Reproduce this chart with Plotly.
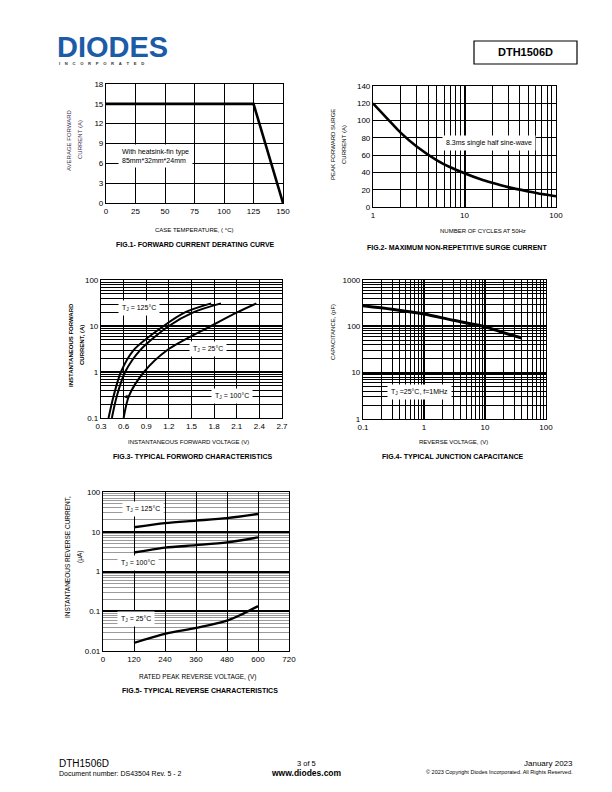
import plotly.graph_objects as go

W, H = 612, 792
def px(x): return x / W
def py(y): return 1 - y / H

# ---------------- data ----------------
fig1_case_temp = [0, 125, 150]
fig1_avg_current = [15, 15, 0]

fig2_cycles = [1, 1.5, 2, 3, 5, 7, 10, 15, 20, 30, 50, 70, 100]
fig2_surge_current = [120, 100, 86, 70, 54, 46, 39, 32, 28, 23, 18, 15, 12.5]

fig3_current = [0.1, 0.3, 1, 3, 10, 20, 31]
fig3_v_125c = [0.40, 0.467, 0.564, 0.733, 1.13, 1.42, 1.76]
fig3_v_100c = [0.444, 0.51, 0.62, 0.82, 1.2, 1.53, 1.89]
fig3_v_25c = [0.60, 0.67, 0.87, 1.18, 1.76, 2.11, 2.36]

fig4_reverse_v = [0.1, 0.3, 1, 3, 10, 20, 40]
fig4_capacitance = [280, 235, 185, 135, 98, 73, 56]

fig5_voltage = [120, 240, 360, 480, 600]
fig5_ir_125c = [13, 16.5, 19, 22, 28]
fig5_ir_100c = [3.0, 4.0, 4.6, 5.4, 7.2]
fig5_voltage_25c = [120, 240, 360, 480, 540, 600]
fig5_ir_25c = [0.016, 0.027, 0.038, 0.058, 0.085, 0.135]

FONT = "Liberation Sans, Arial, sans-serif"
BLACK = "#000000"

fig = go.Figure()

def line(x, y, xa, ya, w=2.6, shape="linear"):
    fig.add_trace(go.Scatter(x=x, y=y, mode="lines", xaxis=xa, yaxis=ya,
                             line=dict(color=BLACK, width=w, shape=shape, smoothing=0.8),
                             showlegend=False, hoverinfo="skip"))

line(fig1_case_temp, fig1_avg_current, "x", "y")
line(fig2_cycles, fig2_surge_current, "x2", "y2", shape="spline")
line(fig3_v_125c, fig3_current, "x3", "y3", w=2.0, shape="spline")
line(fig3_v_100c, fig3_current, "x3", "y3", w=2.0, shape="spline")
line(fig3_v_25c, fig3_current, "x3", "y3", w=2.0, shape="spline")
line(fig4_reverse_v, fig4_capacitance, "x4", "y4", w=3.0, shape="spline")
line(fig5_voltage, fig5_ir_125c, "x5", "y5", w=2.4, shape="spline")
line(fig5_voltage, fig5_ir_100c, "x5", "y5", w=2.4, shape="spline")
line(fig5_voltage_25c, fig5_ir_25c, "x5", "y5", w=2.4, shape="spline")

tickfont = dict(family=FONT, size=8, color=BLACK)

def lin_axis(dom, rng, dtick, tick0=0, fmt=None, gw=1.0, anchor=None, gc=BLACK):
    d = dict(domain=dom, range=rng, dtick=dtick, tick0=tick0, showgrid=True,
             gridcolor=gc, gridwidth=gw, showline=True, linecolor=BLACK, linewidth=1.2,
             mirror=True, ticks="", tickfont=tickfont, zeroline=False, fixedrange=True,
             anchor=anchor, automargin=False)
    if fmt:
        d["tickformat"] = fmt
    return d

def log_axis(dom, rng, anchor=None, minor_color=BLACK, minor_w=0.8, major_w=1.5):
    return dict(domain=dom, range=rng, type="log", dtick=1, showgrid=True,
                gridcolor=BLACK, gridwidth=major_w, showline=True, linecolor=BLACK,
                linewidth=1.2, mirror=True, ticks="", tickfont=tickfont, zeroline=False,
                fixedrange=True, anchor=anchor, automargin=False,
                minor=dict(dtick="D1", showgrid=True, gridcolor=minor_color,
                           gridwidth=minor_w, ticks=""))

# Fig 1
xd1 = [px(106), px(283)]; yd1 = [py(203), py(84)]
# Fig 2
xd2 = [px(373), px(556)]; yd2 = [py(207), py(86)]
# Fig 3
xd3 = [px(101), px(282)]; yd3 = [py(418), py(280)]
# Fig 4
xd4 = [px(363), px(546)]; yd4 = [py(419), py(280)]
# Fig 5
xd5 = [px(103), px(289)]; yd5 = [py(651), py(492)]

layout = dict(
    template="none",
    width=W, height=H, margin=dict(l=0, r=0, t=0, b=0, pad=0, autoexpand=False),
    paper_bgcolor="white", plot_bgcolor="white", showlegend=False,
    font=dict(family=FONT, color=BLACK),
    xaxis=lin_axis(xd1, [0, 150], 25, anchor="y"),
    yaxis=lin_axis(yd1, [0, 18], 3, anchor="x"),
    xaxis2=log_axis(xd2, [0, 2], anchor="y2"),
    yaxis2=lin_axis(yd2, [0, 140], 20, anchor="x2"),
    xaxis3=lin_axis(xd3, [0.3, 2.7], 0.3, tick0=0.3, fmt=".1f", anchor="y3", gw=0.9),
    yaxis3=log_axis(yd3, [-1, 2], anchor="x3"),
    xaxis4=log_axis(xd4, [-1, 2], anchor="y4"),
    yaxis4=log_axis(yd4, [0, 3], anchor="x4"),
    xaxis5=lin_axis(xd5, [0, 720], 120, anchor="y5", gw=1.3),
    yaxis5=log_axis(yd5, [-2, 2], anchor="x5", minor_color="#9a9a9a", minor_w=0.8),
)
layout["yaxis5"]["tickvals"] = [0.01, 0.1, 1, 10, 100]
layout["yaxis5"]["ticktext"] = ["0.01", "0.1", "1", "10", "100"]
layout["yaxis3"]["tickvals"] = [0.1, 1, 10, 100]
layout["yaxis3"]["ticktext"] = ["0.1", "1", "10", "100"]
layout["xaxis4"]["tickvals"] = [0.1, 1, 10, 100]
layout["xaxis4"]["ticktext"] = ["0.1", "1", "10", "100"]
layout["yaxis4"]["tickvals"] = [1, 10, 100, 1000]
layout["yaxis4"]["ticktext"] = ["1", "10", "100", "1000"]
layout["xaxis2"]["tickvals"] = [1, 10, 100]
layout["xaxis2"]["ticktext"] = ["1", "10", "100"]
fig.update_layout(**layout)

ann = []
def text(x, y, s, size=7, bold=False, xanchor="center", angle=0, color=BLACK, yanchor="middle"):
    if bold:
        s = "<b>" + s + "</b>"
    ann.append(dict(x=px(x), y=py(y), xref="paper", yref="paper", text=s, showarrow=False,
                    font=dict(family=FONT, size=size, color=color), xanchor=xanchor,
                    yanchor=yanchor, textangle=angle))

def boxed(x, y, s, size=7, xanchor="left"):
    ann.append(dict(x=px(x), y=py(y), xref="paper", yref="paper", text=s, showarrow=False,
                    font=dict(family=FONT, size=size, color=BLACK), xanchor=xanchor,
                    yanchor="middle", bgcolor="white", borderpad=3, align="left"))

# Fig 1 texts
text(194, 230, "CASE TEMPERATURE, ( °C)", size=6)
text(196, 244, "FIG.1- FORWARD CURRENT DERATING CURVE", size=7, bold=True)
text(69, 140, "AVERAGE FORWARD", size=6, angle=-90, color="#3b2c4e")
text(80, 140, "CURRENT (A)", size=6, angle=-90, color="#3b2c4e")
boxed(118, 156, "With heatsink-fin type<br>85mm*32mm*24mm", size=7)

# Fig 2 texts
text(483, 231, "NUMBER OF CYCLES AT 50Hz", size=6)
text(457, 247, "FIG.2- MAXIMUM NON-REPETITIVE SURGE CURRENT", size=7, bold=True)
text(333, 145, "PEAK FORWARD SURGE", size=6, angle=-90)
text(344, 145, "CURRENT (A)", size=6, angle=-90)
boxed(442, 143, "8.3ms single half sine-wave", size=7)

# Fig 3 texts
text(188, 442, "INSTANTANEOUS FORWARD VOLTAGE (V)", size=6)
text(193, 456, "FIG.3- TYPICAL FORWORD CHARACTERISTICS", size=7, bold=True)
text(71, 345, "INSTANTANEOUS FORWARD", size=6, angle=-90, bold=True)
text(82, 345, "CURRENT, (A)", size=6, angle=-90, bold=True)
boxed(118, 308, "T<sub>J</sub> = 125°C", size=7)
boxed(189, 349, "T<sub>J</sub> = 25°C", size=7)
boxed(211, 396, "T<sub>J</sub> = 100°C", size=7)
ann.append(dict(x=0.6, y=-0.54, xref="x3", yref="y3", ax=7, ay=0, axref="pixel", ayref="pixel",
                text="", showarrow=True, arrowhead=2, arrowsize=0.8, arrowwidth=1, arrowcolor=BLACK))

# Fig 4 texts
text(453, 442, "REVERSE VOLTAGE, (V)", size=6)
text(453, 456, "FIG.4- TYPICAL JUNCTION CAPACITANCE", size=7, bold=True)
text(333, 332, "CAPACITANCE, (pF)", size=6, angle=-90)
boxed(387, 392, "T<sub>J</sub> =25°C, f=1MHz", size=7)

# Fig 5 texts
text(197, 677, "RATED PEAK REVERSE VOLTAGE, (V)", size=6.5)
text(200, 690, "FIG.5- TYPICAL REVERSE CHARACTERISTICS", size=7, bold=True)
text(67, 557, "INSTANTANEOUS REVERSE CURRENT,", size=6.5, angle=-90)
text(80, 557, "(μA)", size=6.5, angle=-90)
boxed(122, 509, "T<sub>J</sub> = 125°C", size=7)
boxed(117, 563, "T<sub>J</sub> = 100°C", size=7)
boxed(117, 619, "T<sub>J</sub> = 25°C", size=7)

# Header
text(55, 47, "DIODES", size=29, bold=True, xanchor="left", color="#1c5ba8")
sp = "\u00a0" * 4
text(57, 63.5, sp.join("INCORPORATED"), size=4.2, bold=True, xanchor="left", color="#333333")
text(525, 52, "DTH1506D", size=11, bold=True)

# Footer
text(57, 763, "DTH1506D", size=10, xanchor="left")
text(57, 773, "Document number: DS43504 Rev. 5 - 2", size=7, xanchor="left")
text(306, 763, "3 of 5", size=7.5)
text(306, 773, "www.diodes.com", size=8.5, bold=True)
text(575, 763, "January 2023", size=8, xanchor="right")
text(575, 772, "© 2023 Copyright Diodes Incorporated. All Rights Reserved.", size=5.5, xanchor="right")

fig.update_layout(annotations=ann)

fig.add_shape(type="rect", xref="paper", yref="paper", x0=px(474), x1=px(577), y0=py(41), y1=py(64),
              line=dict(color=BLACK, width=1.2))
# white stripe through logo
fig.add_shape(type="line", xref="paper", yref="paper", x0=px(55), x1=px(165), y0=py(47.5), y1=py(47.5),
              line=dict(color="white", width=1.5))

fig.write_html("out.html", config={"displayModeBar": False},
               post_script="document.body.style.margin='0';document.body.style.padding='0';")
